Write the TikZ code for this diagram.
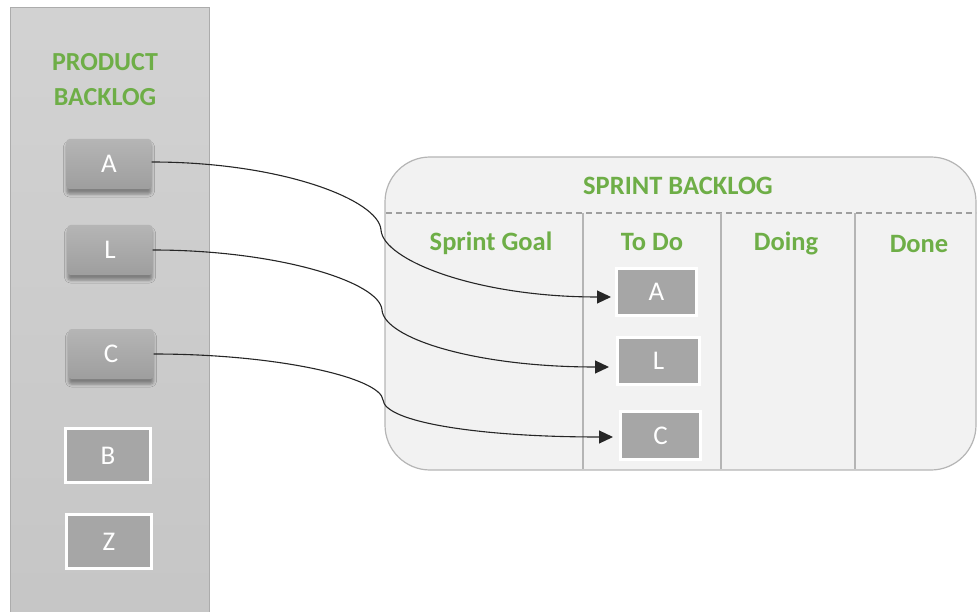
\documentclass[tikz,border=0pt]{standalone}
\usepackage{fontspec}
\setmainfont{Carlito}
\usetikzlibrary{arrows.meta,shadows.blur}
\definecolor{hdrgreen}{HTML}{6EAE47}
\definecolor{panelline}{HTML}{B5B5B5}
\definecolor{cardgray}{HTML}{A6A6A6}
\tikzset{
  hdr/.style={text=hdrgreen, font=\bfseries\fontsize{26.5}{30}\selectfont, inner sep=0pt},
  pcard/.style={rounded corners=3pt, minimum width=85pt, minimum height=50pt,
    top color=gray!58!white, bottom color=gray!76!white, draw=none,
    text=white, font=\fontsize{27}{29}\selectfont,
    blur shadow={shadow xshift=0pt, shadow yshift=-5pt, shadow blur radius=3pt, shadow opacity=38}},
  wcard/.style={fill=cardgray, draw=white, line width=3pt, text=white,
    font=\fontsize{27}{29}\selectfont},
  flow/.style={line width=1.1pt, draw=black!85, -{Triangle[length=14pt,width=13pt]}},
}
\begin{document}
\begin{tikzpicture}[x=1pt,y=-1pt]
\useasboundingbox (0,0) rectangle (977,612);
% product backlog column
\path[top color=gray!35!white, bottom color=gray!45!white, draw=gray!65, line width=1pt]
  (10,8) rectangle (209,614);
\node[hdr, align=center, font=\bfseries\fontsize{26}{35}\selectfont] (ptitle) at (105,80) {PRODUCT\\BACKLOG};
\node[pcard] (pa) at (109,164) {A};
\node[pcard] (pl) at (110,250) {L};
\node[pcard] (pc) at (111,354) {C};
\node[wcard, minimum width=85pt, minimum height=54pt] (pb) at (108,455.5) {B};
\node[wcard, minimum width=85pt, minimum height=54pt] (pz) at (109,541.5) {Z};
% sprint backlog board
\path[fill=gray!10, draw=panelline, line width=1.2pt, rounded corners=45pt]
  (385,157) rectangle (976,470);
\draw[gray!75, line width=1.3pt, dash pattern=on 6pt off 4pt] (386,213) -- (976,213);
\foreach \cx in {583,721,855}
  \draw[panelline, line width=1.1pt] (\cx,213) -- (\cx,469);
\node[hdr] (stitle) at (678,186) {SPRINT BACKLOG};
\node[hdr] (hgoal) at (491,243) {Sprint Goal};
\node[hdr] (htodo) at (652,242) {To Do};
\node[hdr] (hdoing) at (786,243) {Doing};
\node[hdr] (hdone) at (919,244) {Done};
\node[wcard, minimum width=80pt, minimum height=47pt] (ta) at (656.5,292) {A};
\node[wcard, minimum width=82pt, minimum height=47pt] (tl) at (658.5,361) {L};
\node[wcard, minimum width=80pt, minimum height=48pt] (tc) at (660.5,435.5) {C};
% connectors, each bending at the board's left edge
\coordinate (ka) at (381,230);
\coordinate (kl) at (382,310);
\coordinate (kc) at (383,400);
\draw[flow] ([yshift=2pt]pa.east) .. controls +(130,0) and +(-2,-30) .. (ka)
  .. controls +(2,30) and +(-135,0) .. ([xshift=-4pt,yshift=-5pt]ta.west);
\draw[flow] (pl.east) .. controls +(125,0) and +(-2,-28) .. (kl)
  .. controls +(2,28) and +(-135,0) .. ([xshift=-7pt,yshift=-6pt]tl.west);
\draw[flow] (pc.east) .. controls +(125,0) and +(-2,-22) .. (kc)
  .. controls +(2,22) and +(-135,0) .. ([xshift=-6pt,yshift=-1.5pt]tc.west);
\end{tikzpicture}
\end{document}
